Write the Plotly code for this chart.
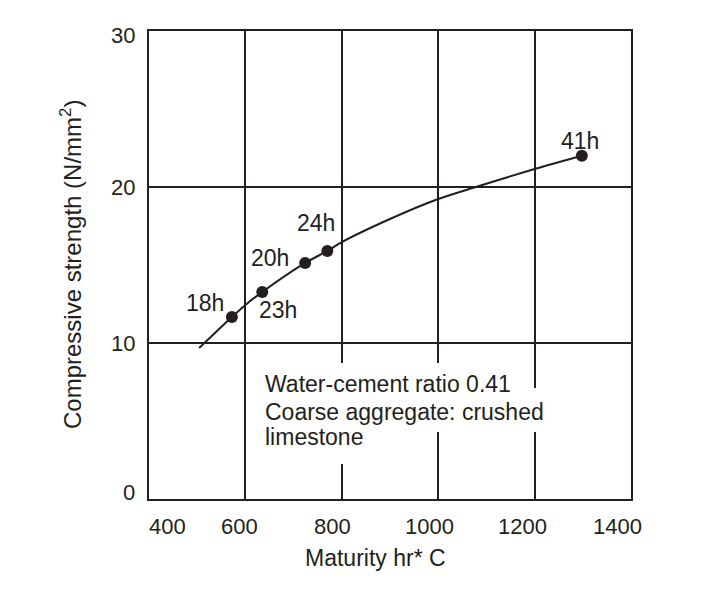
import plotly.graph_objects as go

# Measured points (maturity, strength) and their labels
point_x = [572, 635, 724, 770, 1298]
point_y = [11.67, 13.27, 15.13, 15.9, 22.0]
point_labels = ["18h", "23h", "20h", "24h", "41h"]
# label offsets in pixels (dx, dy up)
label_dx = [-27, 16, -35, -11, -2]
label_dy = [14, -18, 5, 28, 15]

# Fitted curve
curve_x = [504, 572, 600, 635, 724, 770, 800, 900, 1000, 1078, 1200, 1298]
curve_y = [9.68, 11.67, 12.44, 13.27, 15.13, 15.9, 16.47, 17.95, 19.23, 20.0, 21.15, 22.0]

x_ticks = [400, 600, 800, 1000, 1200, 1400]
x_tick_text = ["400", "600", "800", "1000", "1200", "1400"]
x_tick_shift = [18, -6, -9, -9, -12, -14]   # label offsets as drawn in the original
y_ticks = [0, 10, 20, 30]
y_tick_text = ["0", "10", "20", "30"]
y_tick_shift = [7, 0, 0, -4]

note_lines = ["Water-cement ratio 0.41", "Coarse aggregate: crushed", "limestone"]
note_y = [7.37, 5.58, 3.97]

INK = "#231f20"
FONT = "Liberation Sans, Arial, sans-serif"

fig = go.Figure()
fig.add_trace(go.Scatter(x=curve_x, y=curve_y, mode="lines",
                         line=dict(color=INK, width=2, shape="spline", smoothing=0.8),
                         hoverinfo="skip", showlegend=False))
fig.add_trace(go.Scatter(x=point_x, y=point_y, mode="markers",
                         marker=dict(color=INK, size=12),
                         showlegend=False))

for px_, py_, t, dx, dy in zip(point_x, point_y, point_labels, label_dx, label_dy):
    fig.add_annotation(x=px_, y=py_, xref="x", yref="y", text=t, showarrow=False,
                       xshift=dx, yshift=dy, xanchor="center", yanchor="middle",
                       font=dict(size=23, color=INK, family=FONT))

# white boxes behind the note, breaking the grid lines
for (x0, x1, y0, y1) in [(637, 1171, 6.47, 8.72), (637, 1238, 4.29, 7.12), (637, 880, 2.24, 5.06)]:
    fig.add_shape(type="rect", x0=x0, x1=x1, y0=y0, y1=y1, xref="x", yref="y",
                  fillcolor="white", line=dict(width=0), layer="above")

for txt, yv in zip(note_lines, note_y):
    fig.add_annotation(x=637, y=yv, xref="x", yref="y", text=txt, showarrow=False,
                       xanchor="left", yanchor="middle",
                       font=dict(size=23, color=INK, family=FONT))

# x tick labels (placed as in the original drawing)
for xv, t, sh in zip(x_ticks, x_tick_text, x_tick_shift):
    fig.add_annotation(x=xv, y=0, xref="x", yref="paper", text=t, showarrow=False,
                       xshift=sh, yshift=-27, xanchor="center", yanchor="middle",
                       font=dict(size=22, color=INK, family=FONT))

# y tick labels
for yv, t, sh in zip(y_ticks, y_tick_text, y_tick_shift):
    fig.add_annotation(x=0, y=yv, xref="paper", yref="y", text=t, showarrow=False,
                       xshift=-12, yshift=sh, xanchor="right", yanchor="middle",
                       font=dict(size=22, color=INK, family=FONT))

# axis titles
fig.add_annotation(x=0.5, y=0, xref="paper", yref="paper", text="Maturity hr* C", showarrow=False,
                   xshift=-15, yshift=-59, xanchor="center", yanchor="middle",
                   font=dict(size=23, color=INK, family=FONT))
fig.add_annotation(x=0, y=0.5, xref="paper", yref="paper",
                   text="Compressive strength (N/mm<sup>2</sup>)", showarrow=False,
                   textangle=-90, xshift=-78, xanchor="center", yanchor="middle",
                   font=dict(size=24, color=INK, family=FONT))

fig.update_xaxes(range=[400, 1400], tickvals=x_ticks, showgrid=True, gridcolor=INK, gridwidth=2,
                 showline=True, linecolor=INK, linewidth=2, mirror=True, zeroline=False,
                 ticks="", showticklabels=False)
fig.update_yaxes(range=[0, 30], tickvals=y_ticks, showgrid=True, gridcolor=INK, gridwidth=2,
                 showline=True, linecolor=INK, linewidth=2, mirror=True, zeroline=False,
                 ticks="", showticklabels=False)

fig.update_layout(width=720, height=593, margin=dict(l=141, r=97, t=23, b=102),
                  plot_bgcolor="white", paper_bgcolor="white", font=dict(family=FONT))
fig.write_html("out.html")
